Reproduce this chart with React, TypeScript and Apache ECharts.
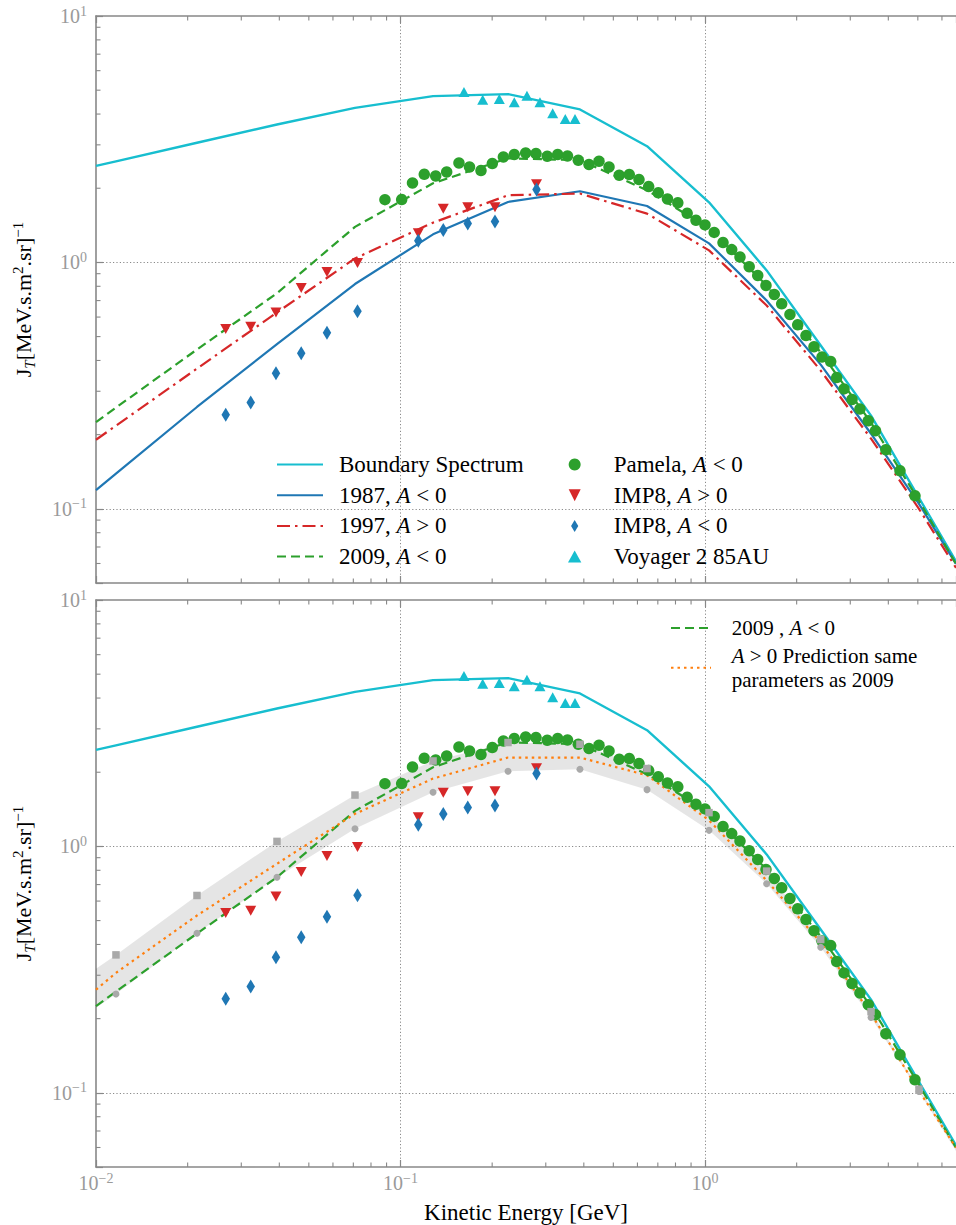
import React, { useEffect, useRef } from "react";
import * as echarts from "echarts";

// ---------- data ----------
// model energy grid [GeV]; first and last entries are where the curves meet the plot edges
const gridEnergy = [0.01, 0.01163, 0.02146, 0.0393, 0.07088, 0.1279, 0.2255, 0.3885, 0.6451, 1.031, 1.594, 2.399, 3.51, 5.044, 6.673];
const boundarySpectrum = [2.464, 2.572, 3.058, 3.628, 4.239, 4.729, 4.818, 4.176, 2.962, 1.753, 0.928, 0.4599, 0.2388, 0.1108, 0.0612];
const model1987 = [0.1191, 0.1389, 0.259, 0.4664, 0.8171, 1.3, 1.759, 1.944, 1.694, 1.195, 0.7006, 0.3849, 0.2017, 0.1048, 0.0598];
const model1997 = [0.1907, 0.2175, 0.3708, 0.6264, 1.038, 1.45, 1.873, 1.903, 1.578, 1.119, 0.6686, 0.3639, 0.1926, 0.1, 0.0576];
const model2009 = [0.2247, 0.2575, 0.4431, 0.7502, 1.394, 2.095, 2.647, 2.598, 1.962, 1.375, 0.8064, 0.4307, 0.2237, 0.1078, 0.0598];
const predictionAPos = [0.2622, 0.3067, 0.5243, 0.8505, 1.356, 1.885, 2.294, 2.294, 1.944, 1.276, 0.7273, 0.4072, 0.2095, 0.1019, 0.0599];
const bandUpper = [0.3191, 0.3629, 0.6322, 1.048, 1.616, 2.222, 2.64, 2.598, 2.07, 1.371, 0.7937, 0.4188, 0.2135, 0.1035, 0.0615];
const bandLower = [0.2216, 0.2519, 0.4442, 0.7502, 1.18, 1.658, 2.018, 2.056, 1.7, 1.162, 0.7053, 0.3896, 0.2023, 0.1012, 0.0581];

const pamelaE = [0.0889, 0.1009, 0.1095, 0.1197, 0.1305, 0.1418, 0.1556, 0.1685, 0.1838, 0.2002, 0.2177, 0.2364, 0.2577, 0.2786, 0.3034, 0.3283, 0.3535, 0.3836, 0.4159, 0.4486, 0.4839, 0.5228, 0.5641, 0.6071, 0.6532, 0.7024, 0.753, 0.8142, 0.8739, 0.9342, 1.0, 1.072, 1.146, 1.224, 1.303, 1.397, 1.49, 1.586, 1.689, 1.786, 1.901, 2.016, 2.146, 2.28, 2.423, 2.587, 2.707, 2.861, 3.039, 3.228, 3.438, 3.63, 3.925, 4.369, 4.894];
const pamelaJ = [1.798, 1.8, 2.101, 2.279, 2.243, 2.329, 2.533, 2.44, 2.359, 2.519, 2.679, 2.74, 2.782, 2.766, 2.697, 2.74, 2.705, 2.598, 2.498, 2.574, 2.44, 2.258, 2.273, 2.169, 2.031, 1.917, 1.81, 1.746, 1.582, 1.482, 1.42, 1.324, 1.204, 1.127, 1.051, 0.961, 0.885, 0.806, 0.741, 0.679, 0.615, 0.558, 0.505, 0.455, 0.413, 0.396, 0.341, 0.3067, 0.2779, 0.2543, 0.2279, 0.2075, 0.1737, 0.1427, 0.1129];

const imp8E = [0.02667, 0.03222, 0.039, 0.0472, 0.05735, 0.07224, 0.1144, 0.1382, 0.1663, 0.2043, 0.2797];
const imp8PosJ = [0.5366, 0.548, 0.626, 0.788, 0.914, 0.994, 1.314, 1.65, 1.673, 1.673, 2.075];
const imp8NegJ = [0.241, 0.2698, 0.3548, 0.4279, 0.5183, 0.6339, 1.223, 1.353, 1.437, 1.464, 1.975];

const voyagerE = [0.1616, 0.1862, 0.2111, 0.2364, 0.2602, 0.2871, 0.3161, 0.3477, 0.3742];
const voyagerJ = [4.91, 4.568, 4.606, 4.47, 4.742, 4.47, 4.034, 3.823, 3.823];

// axis ranges and minor tick values
const X_MIN = 0.01;
const X_MAX = 6.673;
const Y_MIN = 0.05;
const Y_MAX = 10;
const xMinorTicks = [0.02, 0.03, 0.04, 0.05, 0.06, 0.07, 0.08, 0.09, 0.2, 0.3, 0.4, 0.5, 0.6, 0.7, 0.8, 0.9, 2, 3, 4, 5, 6];
const yMinorTicks = [0.06, 0.07, 0.08, 0.09, 0.2, 0.3, 0.4, 0.5, 0.6, 0.7, 0.8, 0.9, 2, 3, 4, 5, 6, 7, 8, 9];

// ---------- styles ----------
const FONT = "Liberation Serif, DejaVu Serif, serif";
const SPINE = "#888888";
const TICKLABEL = "#9a9a9a";
const C_CYAN = "#17becf";
const C_BLUE = "#1f77b4";
const C_RED = "#d62728";
const C_GREEN = "#2ca02c";
const C_ORANGE = "#ff7f0e";
const C_GRAY = "#a9a9a9";

const TRI_DOWN = "path://M0,0L2,0L1,2Z";
const TRI_UP_ICON = "path://M1,0L2,1.8L0,1.8Z";
const DIAMOND_ICON = "path://M0,0L3,5L0,10L-3,5Z";

const pair = (xs: number[], ys: number[]) => xs.map((x, i) => [x, ys[i]]);

const fmtPow = (v: number) => {
  const l = Math.log10(v);
  const r = Math.round(l);
  if (Math.abs(l - r) > 1e-6) return "";
  const e = r < 0 ? "\u2212" + -r : String(r);
  return "{b|10}{s|" + e + "}";
};

const tickRich = {
  b: { fontFamily: FONT, fontSize: 20, lineHeight: 24, color: TICKLABEL },
  s: { fontFamily: FONT, fontSize: 14, lineHeight: 12, color: TICKLABEL, verticalAlign: "top" },
};

const gridLine = { color: "#8a8a8a", width: 1, type: [1.2, 2.2] };

const xAxisFor = (gridIndex: number, position: string, showLabel: boolean) => ({
  type: "log",
  logBase: 10,
  gridIndex,
  position,
  min: X_MIN,
  max: X_MAX,
  axisLine: { show: true, onZero: false, lineStyle: { color: SPINE, width: 1.6 } },
  axisTick: { show: true, inside: true, length: 7, lineStyle: { color: SPINE, width: 1.2 } },
  axisLabel: { show: showLabel, formatter: fmtPow, margin: 4, rich: tickRich, showMaxLabel: false },
  splitLine: { show: position === "bottom", showMinLine: false, showMaxLine: false, lineStyle: gridLine },
  name: showLabel ? "Kinetic Energy [GeV]" : "",
  nameLocation: "middle",
  nameGap: 34,
  nameTextStyle: { fontFamily: FONT, fontSize: 23, color: "#000" },
});

const yName = "{n|J}{sub|T}{n|[MeV.s.m}{sup|2}{n|.sr]}{sup|\u22121}";
const yAxisFor = (gridIndex: number) => ({
  type: "log",
  logBase: 10,
  gridIndex,
  min: Y_MIN,
  max: Y_MAX,
  axisLine: { show: true, onZero: false, lineStyle: { color: SPINE, width: 1.6 } },
  axisTick: { show: true, inside: true, length: 7, lineStyle: { color: SPINE, width: 1.2 } },
  axisLabel: { show: true, formatter: fmtPow, margin: 9, rich: tickRich },
  splitLine: { show: true, showMinLine: false, showMaxLine: false, lineStyle: gridLine },
  name: yName,
  nameLocation: "middle",
  nameRotate: 90,
  nameGap: 59,
  nameTextStyle: {
    rich: {
      n: { fontFamily: FONT, fontSize: 22, lineHeight: 27, color: "#000" },
      sub: { fontFamily: FONT, fontSize: 15, fontStyle: "italic", lineHeight: 18, color: "#000", verticalAlign: "bottom" },
      sup: { fontFamily: FONT, fontSize: 15, lineHeight: 15, color: "#000", verticalAlign: "top" },
    },
  },
});

const seg = (x1: number, y1: number, x2: number, y2: number) => ({
  type: "line",
  shape: { x1, y1, x2, y2 },
  style: { stroke: SPINE, lineWidth: 1.1 },
});

const minorTickSeries = (xi: number, yi: number) => ({
  type: "custom",
  xAxisIndex: xi,
  yAxisIndex: yi,
  silent: true,
  clip: false,
  z: 6,
  data: [[0.1, 1]],
  renderItem: (_p: any, api: any) => {
    const bl = api.coord([X_MIN, Y_MIN]);
    const tl = api.coord([X_MIN, Y_MAX]);
    const children: any[] = [];
    for (const v of xMinorTicks) {
      const x = api.coord([v, 1])[0];
      children.push(seg(x, bl[1], x, bl[1] - 4.5));
      children.push(seg(x, tl[1], x, tl[1] + 4.5));
    }
    for (const v of yMinorTicks) {
      const y = api.coord([1, v])[1];
      children.push(seg(bl[0], y, bl[0] + 4.5, y));
    }
    return { type: "group", children };
  },
});

const lineSeries = (name: string, ys: number[], color: string, type: any, xi: number, yi: number, width = 2.2) => ({
  type: "line",
  name,
  xAxisIndex: xi,
  yAxisIndex: yi,
  data: pair(gridEnergy, ys),
  symbol: "none",
  showSymbol: false,
  lineStyle: { color, width, type },
  itemStyle: { color },
  z: 2,
});

const dataSeries = (xi: number, yi: number) => [
  {
    type: "scatter", name: "Pamela, A < 0", xAxisIndex: xi, yAxisIndex: yi,
    data: pair(pamelaE, pamelaJ), symbol: "circle", symbolSize: 11.5,
    itemStyle: { color: C_GREEN, opacity: 1 }, z: 3,
  },
  {
    type: "scatter", name: "IMP8, A > 0", xAxisIndex: xi, yAxisIndex: yi,
    data: pair(imp8E, imp8PosJ), symbol: TRI_DOWN, symbolSize: [11, 10],
    itemStyle: { color: C_RED, opacity: 1 }, z: 3,
  },
  {
    type: "scatter", name: "IMP8, A < 0", xAxisIndex: xi, yAxisIndex: yi,
    data: pair(imp8E, imp8NegJ), symbol: "diamond", symbolSize: [8.5, 14],
    itemStyle: { color: C_BLUE, opacity: 1 }, z: 3,
  },
  {
    type: "scatter", name: "Voyager 2 85AU", xAxisIndex: xi, yAxisIndex: yi,
    data: pair(voyagerE, voyagerJ), symbol: "triangle", symbolSize: [11, 10],
    itemStyle: { color: C_CYAN, opacity: 1 }, z: 3,
  },
];

const legendText: Record<string, string> = {
  "Boundary Spectrum": "Boundary Spectrum",
  "1987, A < 0": "1987, {i|A} < 0",
  "1997, A > 0": "1997, {i|A} > 0",
  "2009, A < 0": "2009, {i|A} < 0",
  "Pamela, A < 0": "Pamela, {i|A} < 0",
  "IMP8, A > 0": "IMP8, {i|A} > 0",
  "IMP8, A < 0": "IMP8, {i|A} < 0",
  "Voyager 2 85AU": "Voyager 2 85AU",
  "2009 , A < 0": "2009 , {i|A} < 0",
  "A > 0 Prediction same parameters as 2009": "{i|A} > 0 Prediction same\nparameters as 2009",
};

const legendTextStyle = (fs: number, lh: number, pad: number) => ({
  fontFamily: FONT,
  fontSize: fs,
  color: "#000",
  lineHeight: lh,
  padding: [0, 0, 0, pad],
  rich: {
    i: { fontFamily: FONT, fontSize: fs, fontStyle: "italic", color: "#000", lineHeight: lh },
  },
});

const option: any = {
  animation: false,
  backgroundColor: "#ffffff",
  grid: [
    { left: 96, top: 16, width: 860, height: 567 },
    { left: 96, top: 600, width: 860, height: 567 },
  ],
  xAxis: [
    xAxisFor(0, "bottom", false),
    xAxisFor(0, "top", false),
    xAxisFor(1, "bottom", true),
    xAxisFor(1, "top", false),
  ],
  yAxis: [yAxisFor(0), yAxisFor(1)],
  legend: [
    {
      orient: "vertical", left: 276, top: 453, padding: 0, itemWidth: 46, itemHeight: 14, itemGap: 7.7,
      selectedMode: false,
      itemStyle: { opacity: 0 },
      data: ["Boundary Spectrum", "1987, A < 0", "1997, A > 0", "2009, A < 0"],
      formatter: (n: string) => legendText[n] ?? n,
      textStyle: legendTextStyle(23, 22, 11),
    },
    {
      orient: "vertical", left: 568, top: 453, padding: 0, itemWidth: 46, itemHeight: 12, itemGap: 7.7,
      selectedMode: false,
      symbolKeepAspect: true,
      data: [
        { name: "Pamela, A < 0", icon: "circle" },
        { name: "IMP8, A > 0", icon: TRI_DOWN },
        { name: "IMP8, A < 0", icon: DIAMOND_ICON },
        { name: "Voyager 2 85AU", icon: TRI_UP_ICON },
      ],
      formatter: (n: string) => legendText[n] ?? n,
      textStyle: legendTextStyle(23, 22, 11),
    },
    {
      orient: "vertical", left: 670, top: 616.3, padding: 0, itemWidth: 40, itemHeight: 14, itemGap: 4.5,
      selectedMode: false,
      itemStyle: { opacity: 0 },
      data: ["2009 , A < 0", "A > 0 Prediction same parameters as 2009"],
      formatter: (n: string) => legendText[n] ?? n,
      textStyle: legendTextStyle(21, 23.5, 15.7),
    },
  ],
  series: [
    // ----- top panel -----
    minorTickSeries(0, 0),
    lineSeries("Boundary Spectrum", boundarySpectrum, C_CYAN, "solid", 0, 0, 2.4),
    lineSeries("1987, A < 0", model1987, C_BLUE, "solid", 0, 0),
    lineSeries("1997, A > 0", model1997, C_RED, [13, 5, 2.5, 5], 0, 0),
    lineSeries("2009, A < 0", model2009, C_GREEN, [9, 5], 0, 0),
    ...dataSeries(0, 0),
    // ----- bottom panel -----
    minorTickSeries(2, 1),
    {
      type: "custom",
      name: "band",
      xAxisIndex: 2,
      yAxisIndex: 1,
      silent: true,
      clip: true,
      z: 1,
      data: [[gridEnergy[0], bandUpper[0]]],
      renderItem: (_p: any, api: any) => {
        const pts: number[][] = [];
        for (let i = 0; i < gridEnergy.length; i++) pts.push(api.coord([gridEnergy[i], bandUpper[i]]));
        for (let i = gridEnergy.length - 1; i >= 0; i--) pts.push(api.coord([gridEnergy[i], bandLower[i]]));
        return { type: "polygon", shape: { points: pts }, style: { fill: "rgba(0,0,0,0.1)" } };
      },
    },
    lineSeries("Boundary Spectrum", boundarySpectrum, C_CYAN, "solid", 2, 1, 2.4),
    lineSeries("2009 , A < 0", model2009, C_GREEN, [9, 5], 2, 1),
    lineSeries("A > 0 Prediction same parameters as 2009", predictionAPos, C_ORANGE, [2.5, 4], 2, 1),
    ...dataSeries(2, 1),
    {
      type: "scatter", name: "band upper", xAxisIndex: 2, yAxisIndex: 1,
      data: pair(gridEnergy.slice(1, 14), bandUpper.slice(1, 14)),
      symbol: "rect", symbolSize: 7.5, itemStyle: { color: C_GRAY, opacity: 1 }, z: 4,
    },
    {
      type: "scatter", name: "band lower", xAxisIndex: 2, yAxisIndex: 1,
      data: pair(gridEnergy.slice(1, 14), bandLower.slice(1, 14)),
      symbol: "circle", symbolSize: 7, itemStyle: { color: C_GRAY, opacity: 1 }, z: 4,
    },
  ],
};

export default function App() {
  const ref = useRef<HTMLDivElement>(null);
  useEffect(() => {
    if (!ref.current) return;
    const chart = echarts.init(ref.current, null, { renderer: "svg" });
    chart.setOption(option);
    return () => chart.dispose();
  }, []);
  return (
    <div
      ref={ref}
      style={{ position: "absolute", left: 0, top: 0, width: 956, height: 1225, background: "#fff" }}
    />
  );
}
